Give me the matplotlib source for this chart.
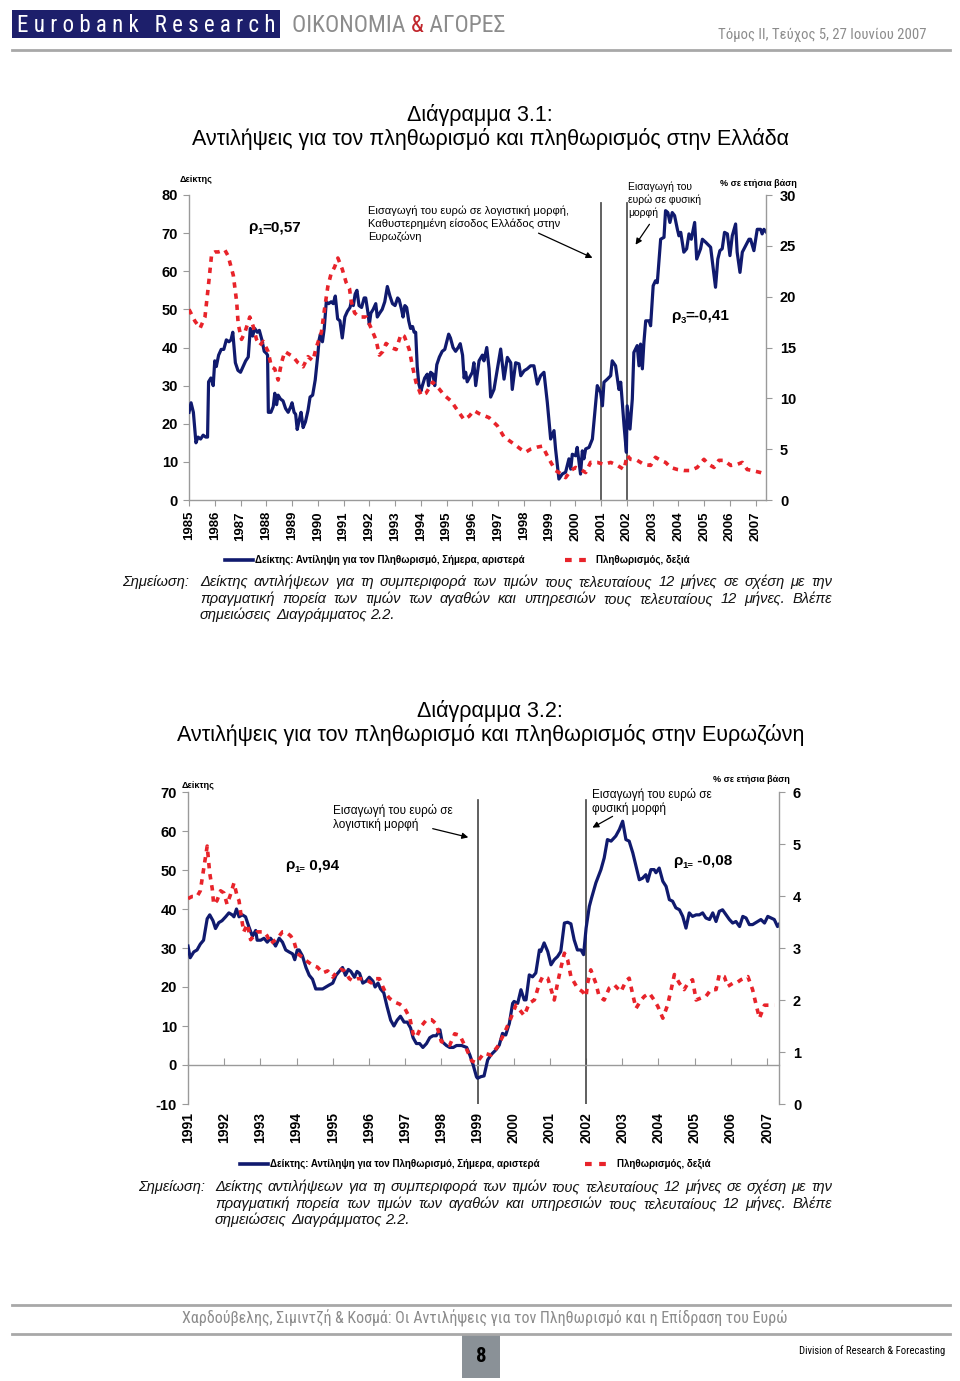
import matplotlib
matplotlib.use('Agg')
import matplotlib.pyplot as plt
from matplotlib import font_manager as fm
from matplotlib.lines import Line2D
from matplotlib.patches import Rectangle, FancyArrowPatch

# ---------------- DATA ----------------
# Chart 3.1 (Greece)
YEARS_1 = list(range(1985, 2008))
GR_IDX_T = [1985.00, 1985.08, 1985.17, 1985.27, 1985.35, 1985.45, 1985.55, 1985.65, 1985.72, 1985.76,
            1985.85, 1985.94, 1986.00, 1986.06, 1986.15, 1986.25, 1986.35, 1986.45, 1986.55, 1986.63,
            1986.70, 1986.80, 1986.90, 1987.00, 1987.10, 1987.20, 1987.30, 1987.38, 1987.47, 1987.55,
            1987.65, 1987.73, 1987.83, 1987.92, 1988.00, 1988.05, 1988.08, 1988.18, 1988.27, 1988.33,
            1988.40, 1988.46, 1988.55, 1988.65, 1988.75, 1988.85, 1988.95, 1989.00, 1989.08, 1989.14,
            1989.20, 1989.28, 1989.35, 1989.43, 1989.52, 1989.62, 1989.70, 1989.80, 1989.90, 1990.00,
            1990.05, 1990.10, 1990.18, 1990.25, 1990.33, 1990.42, 1990.52, 1990.60, 1990.68, 1990.77,
            1990.86, 1990.95, 1991.05, 1991.15, 1991.25, 1991.30, 1991.38, 1991.45, 1991.52, 1991.60,
            1991.70, 1991.80, 1991.86, 1991.95, 1992.00, 1992.06, 1992.15, 1992.25, 1992.31, 1992.40,
            1992.50, 1992.60, 1992.70, 1992.80, 1992.90, 1993.00, 1993.10, 1993.16, 1993.25, 1993.31,
            1993.38, 1993.45, 1993.53, 1993.60, 1993.68, 1993.74, 1993.80, 1993.86, 1993.92, 1994.00,
            1994.06, 1994.15, 1994.25, 1994.30, 1994.38, 1994.47, 1994.54, 1994.62, 1994.72, 1994.83,
            1994.93, 1995.08, 1995.15, 1995.25, 1995.35, 1995.45, 1995.53, 1995.62, 1995.68, 1995.74,
            1995.80, 1996.00, 1996.06, 1996.13, 1996.26, 1996.39, 1996.45, 1996.56, 1996.65, 1996.71,
            1996.84, 1997.10, 1997.23, 1997.36, 1997.49, 1997.55, 1997.68, 1997.81, 1997.88, 1998.01,
            1998.13, 1998.26, 1998.39, 1998.52, 1998.65, 1998.78, 1998.91, 1999.04, 1999.17, 1999.23,
            1999.36, 1999.49, 1999.62, 1999.75, 1999.82, 1999.88, 2000.01, 2000.07, 2000.20, 2000.27,
            2000.33, 2000.40, 2000.53, 2000.66, 2000.79, 2000.85, 2000.98, 2001.05, 2001.11, 2001.24,
            2001.37, 2001.43, 2001.56, 2001.69, 2001.76, 2001.89, 2001.98, 2002.01, 2002.12, 2002.21,
            2002.27, 2002.40, 2002.47, 2002.53, 2002.60, 2002.66, 2002.73, 2002.86, 2002.92, 2003.02,
            2003.11, 2003.18, 2003.31, 2003.44, 2003.50, 2003.59, 2003.67, 2003.76, 2003.85, 2003.96,
            2004.02, 2004.09, 2004.21, 2004.32, 2004.41, 2004.50, 2004.63, 2004.71, 2004.86, 2004.93,
            2005.06, 2005.25, 2005.44, 2005.53, 2005.61, 2005.70, 2005.79, 2005.90, 2006.00, 2006.09,
            2006.22, 2006.28, 2006.39, 2006.48, 2006.61, 2006.74, 2006.80, 2006.93, 2007.06, 2007.19,
            2007.25, 2007.32, 2007.42]
GR_IDX_V = [23, 25.5, 23, 15, 16.5, 16, 17, 16.5, 16.5, 31,
            32, 30, 36.5, 35, 38, 39.5, 39.5, 42, 41.5, 42,
            44, 36, 34, 33.5, 35, 36.5, 37.5, 45, 43, 45,
            44, 44.5, 42, 39, 38.5, 38, 23, 23, 24.5, 28,
            25, 27.5, 26.5, 26, 24, 23, 24.5, 25.5, 23, 22.5,
            18.5, 21, 23, 19, 20.5, 23.5, 27, 27.5, 31.5, 38,
            42, 43.5, 41.5, 45, 52, 51.5, 52, 51.5, 53.5, 47.5,
            47, 42.5, 48, 49.5, 50.5, 52, 51, 54, 55, 51,
            50.5, 53, 53, 49, 46, 49, 50, 51.5, 48, 49,
            50, 52, 56, 53.5, 51.5, 51, 53, 52.5, 50, 48,
            51, 50.5, 47, 45, 45.5, 44, 44, 35, 30.5, 28.5,
            30, 32, 33, 30, 33.5, 33, 30, 35.5, 37.5, 39,
            39.5, 43.5, 42.5, 40, 39, 40, 41, 38, 32, 33.5,
            31, 33.5, 36, 30, 36.5, 38, 36.5, 40, 34.4, 27,
            29, 39.6, 31.7, 37.4, 36, 29, 36, 35.7, 32.6, 33.9,
            34.4, 35.2, 35.2, 30.4, 32.6, 33.5, 25.6, 16, 18.2, 13.4,
            5.5, 6.8, 7.3, 10.8, 8.1, 12, 11.6, 13.8, 6.8, 12.9,
            10.8, 13.4, 13.8, 16, 25.6, 30, 28.2, 24.7, 30.9, 31.7,
            32.6, 36.5, 35.2, 29, 30.9, 19.5, 12.5, 24.7, 18.6, 26.5,
            38.7, 40.5, 35.2, 40.9, 34.4, 41.3, 47, 47, 45.7, 56.2,
            57.5, 57, 68.4, 68.9, 75.9, 75.4, 72.8, 75.4, 74.6, 71,
            69.3, 70.2, 65, 65.9, 69.8, 68.4, 72.8, 63.2, 65.9, 68.4,
            67.6, 66.3, 55.8, 63.2, 65.4, 65.9, 70.2, 69.8, 64.1, 69.3,
            72.4, 65, 59.7, 65, 66.7, 68.4, 68.4, 65.4, 71, 71,
            69.8, 71, 70.2]
GR_INF_T = [1985.00, 1985.23, 1985.43, 1985.62, 1985.75, 1985.88, 1986.01, 1986.14, 1986.39, 1986.52,
            1986.72, 1986.85, 1986.91, 1987.04, 1987.17, 1987.36, 1987.49, 1987.62, 1987.75, 1987.88,
            1988.07, 1988.20, 1988.33, 1988.46, 1988.59, 1988.72, 1988.91, 1989.04, 1989.23, 1989.43,
            1989.62, 1989.81, 1989.94, 1990.14, 1990.26, 1990.39, 1990.52, 1990.65, 1990.78, 1990.95,
            1991.10, 1991.23, 1991.30, 1991.43, 1991.62, 1991.88, 1992.07, 1992.26, 1992.39, 1992.52,
            1992.65, 1992.85, 1993.04, 1993.23, 1993.36, 1993.55, 1993.68, 1993.81, 1994.01, 1994.20,
            1994.46, 1994.72, 1994.91, 1995.17, 1995.43, 1995.68, 1995.88, 1996.06, 1996.26, 1996.65,
            1996.97, 1997.23, 1997.62, 1997.88, 1998.07, 1998.26, 1998.52, 1998.72, 1998.98, 1999.23,
            1999.43, 1999.62, 1999.82, 2000.01, 2000.20, 2000.40, 2000.59, 2000.85, 2001.11, 2001.37,
            2001.63, 2001.89, 2002.01, 2002.14, 2002.40, 2002.66, 2002.92, 2003.11, 2003.31, 2003.50,
            2003.70, 2003.96, 2004.21, 2004.47, 2004.73, 2004.99, 2005.18, 2005.38, 2005.57, 2005.77,
            2006.03, 2006.28, 2006.48, 2006.67, 2006.87, 2007.19, 2007.32]
GR_INF_V = [18.75, 17.6, 16.9, 18.0, 21.0, 24.2, 24.4, 24.4, 24.6, 24.0,
            22.1, 19.5, 17.3, 15.8, 16.5, 18.0, 17.1, 15.8, 15.2, 15.6,
            14.6, 13.1, 12.9, 11.8, 13.5, 14.6, 14.3, 14.1, 13.5, 13.1,
            14.1, 13.7, 15.0, 16.5, 18.75, 21.0, 22.3, 22.9, 23.8, 22.7,
            21.4, 20.8, 19.5, 18.4, 18.0, 18.0, 16.9, 15.75, 14.25, 14.6,
            15.4, 15.0, 14.8, 16.3, 16.1, 14.8, 13.1, 11.6, 10.3, 10.5,
            11.6, 10.9, 10.3, 9.75, 8.8, 7.9, 8.25, 8.8, 8.5, 8.1,
            7.3, 6.2, 5.5, 5.0, 4.7, 5.0, 5.2, 5.3, 4.0, 2.9,
            2.6, 2.2, 2.9, 3.2, 3.0, 2.7, 3.7, 3.7, 3.5, 3.7,
            3.4, 3.0, 4.4, 4.0, 3.9, 3.5, 3.4, 4.2, 3.9, 3.7,
            3.2, 3.0, 2.9, 2.9, 3.2, 4.0, 3.5, 3.2, 3.9, 3.9,
            3.4, 3.5, 3.7, 3.0, 2.9, 2.7, 2.6]
EURO_LINES_1 = [2001, 2002]

# Chart 3.2 (Euro area)
YEARS_2 = list(range(1991, 2008))
EA_IDX_T = [1991.00, 1991.06, 1991.16, 1991.25, 1991.34, 1991.43, 1991.53, 1991.60, 1991.69, 1991.76,
            1991.85, 1991.94, 1992.04, 1992.13, 1992.22, 1992.27, 1992.34, 1992.41, 1992.50, 1992.59,
            1992.68, 1992.78, 1992.87, 1992.91, 1993.01, 1993.10, 1993.19, 1993.28, 1993.36, 1993.42,
            1993.52, 1993.61, 1993.70, 1993.79, 1993.89, 1993.95, 1994.02, 1994.07, 1994.16, 1994.26,
            1994.35, 1994.44, 1994.53, 1994.63, 1994.72, 1994.81, 1994.90, 1995.00, 1995.09, 1995.18,
            1995.27, 1995.35, 1995.43, 1995.50, 1995.60, 1995.67, 1995.74, 1995.83, 1995.92, 1996.01,
            1996.11, 1996.17, 1996.25, 1996.32, 1996.41, 1996.50, 1996.60, 1996.69, 1996.78, 1996.87,
            1996.97, 1997.06, 1997.15, 1997.22, 1997.31, 1997.40, 1997.49, 1997.59, 1997.68, 1997.77,
            1997.86, 1997.96, 1998.02, 1998.14, 1998.23, 1998.33, 1998.42, 1998.56, 1998.70, 1998.79,
            1998.88, 1998.97, 1999.00, 1999.09, 1999.18, 1999.28, 1999.37, 1999.51, 1999.60, 1999.69,
            1999.78, 1999.88, 1999.97, 2000.01, 2000.11, 2000.20, 2000.29, 2000.34, 2000.43, 2000.52,
            2000.61, 2000.71, 2000.75, 2000.84, 2000.94, 2001.03, 2001.12, 2001.21, 2001.30, 2001.40,
            2001.49, 2001.58, 2001.67, 2001.76, 2001.86, 2001.93, 2002.00, 2002.09, 2002.15, 2002.27,
            2002.41, 2002.50, 2002.59, 2002.69, 2002.82, 2002.92, 2003.01, 2003.10, 2003.19, 2003.29,
            2003.38, 2003.47, 2003.56, 2003.65, 2003.70, 2003.79, 2003.88, 2003.93, 2004.02, 2004.12,
            2004.21, 2004.30, 2004.39, 2004.48, 2004.58, 2004.67, 2004.76, 2004.85, 2004.94, 2005.04,
            2005.13, 2005.22, 2005.31, 2005.41, 2005.50, 2005.59, 2005.68, 2005.77, 2005.87, 2005.96,
            2006.05, 2006.14, 2006.24, 2006.33, 2006.42, 2006.51, 2006.60, 2006.74, 2006.83, 2006.93,
            2007.02, 2007.11, 2007.20, 2007.29, 2007.39, 2007.48]
EA_IDX_V = [30.5, 27.5, 29, 29.5, 31, 32, 37.5, 38.5, 37, 35,
            36.5, 37, 38, 39, 38.5, 38, 40, 38, 38.5, 38,
            35.5, 33, 34.5, 32, 32, 32.5, 31.5, 32.5, 31.5, 30.5,
            32.5, 31.5, 29.5, 29, 28.5, 27, 29.5, 29.5, 28, 25,
            23, 22, 19.5, 19.5, 19.5, 20, 20.5, 21, 23, 24,
            25, 23, 24.5, 24, 22.5, 24, 23.5, 21, 21.5, 22.5,
            21.5, 20, 21, 19.5, 18.5, 15, 11.5, 10, 11.5, 12.5,
            11, 11, 9.5, 7, 5.5, 5.5, 4.5, 5.5, 7, 7.5,
            7.5, 9, 6, 5, 4.5, 4.5, 5, 5, 4.5, 2.5,
            0, -3, -3.4, -3, -2.8, 1.3, 2.6, 3.9, 5.1, 8.1,
            7.7, 10.7, 15.8, 16.3, 15.8, 19.3, 16.7, 16.7, 23.1, 22.6,
            23.6, 29.5, 29.1, 31.3, 29.1, 25.7, 27, 27.8, 29.1, 36.4,
            36.6, 36.2, 32.1, 29.5, 29.5, 28.3, 35.1, 40.7, 42.8, 46.7,
            50.1, 53.1, 57.8, 57.4, 58.7, 60.4, 62.5, 57.8, 57.4, 54.4,
            51, 47.5, 47.9, 48.8, 47.1, 50.1, 50.1, 49.3, 50.5, 47.1,
            45.8, 42.4, 42, 40.3, 39.8, 38.1, 35.1, 39, 38.1, 38.5,
            38.5, 39, 37.7, 37.3, 39, 36.8, 39.4, 39.8, 38.5, 37.3,
            36.4, 36.8, 35.5, 38.1, 37.7, 36, 36, 36.8, 37.3, 36.4,
            38.1, 37.7, 37.3, 35.5, 36.8, 36.4]
EA_INF_T = [1991.00, 1991.11, 1991.25, 1991.34, 1991.43, 1991.48, 1991.53, 1991.60, 1991.67, 1991.71,
            1991.80, 1991.90, 1991.99, 1992.08, 1992.17, 1992.27, 1992.36, 1992.41, 1992.47, 1992.54,
            1992.64, 1992.73, 1992.82, 1992.91, 1993.10, 1993.19, 1993.28, 1993.42, 1993.52, 1993.61,
            1993.70, 1993.84, 1993.93, 1994.02, 1994.16, 1994.30, 1994.44, 1994.58, 1994.72, 1994.86,
            1995.00, 1995.09, 1995.23, 1995.32, 1995.46, 1995.55, 1995.69, 1995.83, 1995.97, 1996.06,
            1996.15, 1996.29, 1996.38, 1996.48, 1996.57, 1996.71, 1996.85, 1996.99, 1997.13, 1997.22,
            1997.31, 1997.45, 1997.59, 1997.73, 1997.86, 1998.00, 1998.14, 1998.23, 1998.37, 1998.51,
            1998.70, 1998.84, 1998.97, 1999.18, 1999.37, 1999.55, 1999.74, 1999.92, 2000.06, 2000.29,
            2000.43, 2000.57, 2000.71, 2000.80, 2000.94, 2001.12, 2001.21, 2001.30, 2001.40, 2001.49,
            2001.58, 2001.76, 2001.90, 2002.00, 2002.04, 2002.13, 2002.27, 2002.36, 2002.50, 2002.64,
            2002.78, 2002.96, 2003.10, 2003.19, 2003.29, 2003.38, 2003.52, 2003.61, 2003.75, 2003.88,
            2003.98, 2004.12, 2004.25, 2004.35, 2004.44, 2004.58, 2004.71, 2004.81, 2004.94, 2005.04,
            2005.18, 2005.31, 2005.45, 2005.59, 2005.68, 2005.82, 2005.91, 2006.05, 2006.14, 2006.28,
            2006.47, 2006.60, 2006.70, 2006.79, 2006.93, 2007.06, 2007.20]
EA_INF_V = [3.95, 3.99, 3.99, 4.10, 4.51, 4.74, 4.96, 4.44, 4.14, 3.84,
            3.91, 4.10, 4.06, 3.84, 4.02, 4.25, 3.99, 3.91, 3.61, 3.31,
            3.46, 3.16, 3.23, 3.31, 3.31, 3.23, 3.08, 3.16, 3.23, 3.31,
            3.31, 3.23, 3.12, 2.90, 2.82, 2.74, 2.67, 2.63, 2.52, 2.56,
            2.44, 2.52, 2.59, 2.56, 2.41, 2.37, 2.41, 2.41, 2.37, 2.33,
            2.41, 2.41, 2.26, 2.11, 2.03, 1.96, 1.92, 1.84, 1.65, 1.35,
            1.28, 1.50, 1.62, 1.62, 1.54, 1.20, 1.17, 1.13, 1.35, 1.32,
            1.05, 0.83, 0.79, 0.98, 0.94, 1.10, 1.36, 1.65, 1.90, 1.70,
            1.94, 2.00, 2.32, 2.45, 2.42, 2.00, 2.32, 2.61, 2.90, 2.77,
            2.45, 2.23, 2.16, 2.07, 2.32, 2.58, 2.32, 2.07, 2.00, 2.23,
            2.29, 2.16, 2.36, 2.42, 2.10, 1.84, 2.00, 2.07, 2.13, 2.00,
            1.88, 1.65, 1.90, 2.20, 2.49, 2.32, 2.20, 2.32, 2.39, 2.00,
            2.04, 2.07, 2.20, 2.20, 2.49, 2.45, 2.26, 2.32, 2.32, 2.39,
            2.45, 2.20, 1.90, 1.65, 1.90, 1.90, 1.90]
EURO_LINES_2 = [1999, 2002]

NOTE_LINES = ["Δείκτης αντιλήψεων για τη συμπεριφορά των τιμών τους τελευταίους 12 μήνες σε σχέση με την",
              "πραγματική πορεία των τιμών των αγαθών και υπηρεσιών τους τελευταίους 12 μήνες. Βλέπε",
              "σημειώσεις Διαγράμματος 2.2."]

# ---------------- STYLE ----------------
W, H = 960, 1381
names = {f.name for f in fm.fontManager.ttflist}
SANS = 'Liberation Sans' if 'Liberation Sans' in names else 'DejaVu Sans'
NARROW = next((n for n in ['Liberation Sans Narrow', 'Roboto Condensed', 'Open Sans Condensed']
               if n in names), SANS)
plt.rcParams['font.family'] = [SANS, 'DejaVu Sans']
NAVY = '#101a6e'
RED = '#e8232a'
GREY = '#9a9a9a'

fig = plt.figure(figsize=(W / 100, H / 100), dpi=100)
fig.patch.set_facecolor('white')
REND = fig.canvas.get_renderer()


def ptext(x, y, s, **kw):
    return fig.text(x / W, 1 - y / H, s, **kw)


def wpx(t):
    return t.get_window_extent(REND).width


def fit(t, target):
    t.set_fontsize(t.get_fontsize() * target / wpx(t))


def hline(x0, x1, y, **kw):
    fig.add_artist(Line2D([x0 / W, x1 / W], [1 - y / H, 1 - y / H], transform=fig.transFigure, **kw))


def arrow(x0, y0, x1, y1):
    fig.add_artist(FancyArrowPatch((x0 / W, 1 - y0 / H), (x1 / W, 1 - y1 / H),
                                   transform=fig.transFigure, arrowstyle='-|>',
                                   mutation_scale=9, lw=0.9, color='black'))


def rho(x, y, sub, rest, size=11):
    t1 = ptext(x, y, 'ρ', fontsize=size, fontweight='bold', va='baseline')
    x += wpx(t1)
    t2 = ptext(x, y + 3, sub, fontsize=size * 0.62, fontweight='bold', va='baseline')
    x += wpx(t2)
    ptext(x, y, rest, fontsize=size, fontweight='bold', va='baseline')


NOTE_KW = dict(fontstyle='italic', family=[SANS, 'DejaVu Sans'], va='baseline', color='#111111')


def justify(lines, x0, x1, ys, size):
    kw = NOTE_KW
    for _ in range(3):
        worst = 0
        for line in lines[:-1]:
            ts = [ptext(0, 0, w, fontsize=size, **kw) for w in line.split()]
            need = sum(wpx(t) for t in ts) + 3.0 * (len(ts) - 1)
            for t in ts:
                t.remove()
            worst = max(worst, need / (x1 - x0))
        if worst > 1:
            size = size / worst * 0.995
        else:
            break
    for i, (line, y) in enumerate(zip(lines, ys)):
        words = line.split()
        ts = [ptext(0, y, w, fontsize=size, **kw) for w in words]
        ws = [wpx(t) for t in ts]
        if i == len(lines) - 1:
            gap = size * 0.4
        else:
            gap = (x1 - x0 - sum(ws)) / (len(words) - 1)
        x = x0
        for t, w in zip(ts, ws):
            t.set_x(x / W)
            x += w + gap
    return size


def legend(xl0, xl1, y, xt1, xr0, xr1, xt2):
    fig.add_artist(Line2D([xl0 / W, xl1 / W], [1 - y / H] * 2, transform=fig.transFigure,
                          color=NAVY, lw=2.6))
    ptext(xt1, y, 'Δείκτης: Αντίληψη για τον Πληθωρισμό, Σήμερα, αριστερά', fontsize=7,
          fontweight='bold', va='center')
    fig.add_artist(Line2D([xr0 / W, xr1 / W], [1 - y / H] * 2, transform=fig.transFigure,
                          color=RED, lw=3, dashes=(1.6, 1.8)))
    ptext(xt2, y, 'Πληθωρισμός, δεξιά', fontsize=7, fontweight='bold', va='center')


def style(ax, axr):
    ax.spines['top'].set_visible(False)
    ax.spines['right'].set_visible(False)
    for s in ['top', 'left', 'bottom']:
        axr.spines[s].set_visible(False)
    for sp in [ax.spines['left'], ax.spines['bottom'], axr.spines['right']]:
        sp.set_color(GREY)
        sp.set_linewidth(1.0)
    ax.patch.set_alpha(0)
    axr.patch.set_alpha(0)


# ---------------- HEADER ----------------
fig.add_artist(Rectangle((12 / W, 1 - 38 / H), 268 / W, 28 / H, transform=fig.transFigure,
                         facecolor='#1d1f6b', edgecolor='none'))
t = ptext(146, 25, 'E u r o b a n k   R e s e a r c h', color='white', fontsize=15,
          family=[NARROW, 'DejaVu Sans'], ha='center', va='center')
fit(t, 258)
t1 = ptext(292, 25, 'ΟΙΚΟΝΟΜΙΑ ', color='#8c8c8c', fontsize=24, family=[NARROW, 'DejaVu Sans'],
           va='center')
t2 = ptext(292, 25, '&', color='#c1272d', fontsize=24, family=[NARROW, 'DejaVu Sans'], va='center')
t3 = ptext(292, 25, ' ΑΓΟΡΕΣ', color='#8c8c8c', fontsize=24, family=[NARROW, 'DejaVu Sans'],
           va='center')
tot = wpx(t1) + wpx(t2) + wpx(t3)
sc = 213 / tot
for tt in (t1, t2, t3):
    tt.set_fontsize(24 * sc)
xx = 292 + wpx(t1)
t2.set_x(xx / W)
t3.set_x((xx + wpx(t2)) / W)
t = ptext(926, 35, 'Τόμος ΙΙ, Τεύχος 5, 27 Ιουνίου 2007', color='#8c8c8c', fontsize=11,
          family=[NARROW, 'DejaVu Sans'], ha='right', va='center')
fit(t, 208)
hline(12, 950, 50, color='#a8a8a8', lw=2)

# ---------------- CHART 3.1 ----------------
ptext(480, 115, 'Διάγραμμα 3.1:', fontsize=15.5, ha='center', va='center')
ptext(491, 139, 'Αντιλήψεις για τον πληθωρισμό και πληθωρισμός στην Ελλάδα', fontsize=15.5,
      ha='center', va='center')

ax1 = fig.add_axes([189 / W, 1 - 500 / H, 577 / W, 305 / H])
ax1r = ax1.twinx()
style(ax1, ax1r)
ax1.set_xlim(1985, 2007.4)
ax1.set_ylim(0, 80)
ax1r.set_ylim(0, 30)
for xv in EURO_LINES_1:
    ax1.plot([xv, xv], [0, 77.9], color='#555555', lw=1.3, zorder=2)
ax1.plot(GR_IDX_T, GR_IDX_V, color=NAVY, lw=2.3, zorder=3, solid_joinstyle='round')
ax1r.plot(GR_INF_T, GR_INF_V, color=RED, lw=2.6, dashes=(1.5, 1.6), zorder=4)
ax1.set_yticks(range(0, 81, 10), [str(v) for v in range(0, 81, 10)], fontweight='bold', fontsize=10.5)
ax1r.set_yticks(range(0, 31, 5), [str(v) for v in range(0, 31, 5)], fontweight='bold', fontsize=10.5)
ax1.set_xticks(YEARS_1, [str(y) for y in YEARS_1], rotation=90, fontweight='bold', fontsize=9.5)
ax1.tick_params(axis='both', length=4, color=GREY, pad=4)
ax1r.tick_params(axis='y', length=4, color=GREY, pad=6)

ptext(180, 180, 'Δείκτης', fontsize=6.5, fontweight='bold', va='center')
ptext(720, 184, '% σε ετήσια βάση', fontsize=6.5, fontweight='bold', va='center')
rho(248, 231, '1', '=0,57', 11)
rho(671, 320, '3', '=-0,41', 11)
ptext(368, 206, 'Εισαγωγή του ευρώ σε λογιστική μορφή,\nΚαθυστερημένη είσοδος Ελλάδος στην\nΕυρωζώνη',
      fontsize=8, va='top', linespacing=1.25)
arrow(536, 232, 595, 259)
ptext(628, 182, 'Εισαγωγή του\nευρώ σε φυσική\nμορφή', fontsize=7.5, va='top', linespacing=1.25)
arrow(651, 222, 634, 247)

legend(225, 253, 560, 255, 565, 586, 596)
ptext(122, 586, 'Σημείωση:', fontsize=10.5, **NOTE_KW)
justify(NOTE_LINES, 200, 832, [586, 603, 619], 10.5)

# ---------------- CHART 3.2 ----------------
ptext(490, 711, 'Διάγραμμα 3.2:', fontsize=15.5, ha='center', va='center')
ptext(491, 735, 'Αντιλήψεις για τον πληθωρισμό και πληθωρισμός στην Ευρωζώνη', fontsize=15.5,
      ha='center', va='center')

ax2 = fig.add_axes([188 / W, 1 - 1104 / H, 591 / W, 312 / H])
ax2r = ax2.twinx()
style(ax2, ax2r)
ax2.set_xlim(1991, 2007.33)
ax2.set_ylim(-10, 70)
ax2r.set_ylim(0, 6)
ax2.spines['bottom'].set_position(('data', 0))
for xv in EURO_LINES_2:
    ax2.plot([xv, xv], [-10, 68], color='#444444', lw=1.2, zorder=2)
ax2.plot(EA_IDX_T, EA_IDX_V, color=NAVY, lw=2.3, zorder=3, solid_joinstyle='round')
ax2r.plot(EA_INF_T, EA_INF_V, color=RED, lw=2.6, dashes=(1.5, 1.6), zorder=4)
ax2.set_yticks(range(-10, 71, 10), [str(v) for v in range(-10, 71, 10)], fontweight='bold',
               fontsize=10.5)
ax2r.set_yticks(range(0, 7), [str(v) for v in range(0, 7)], fontweight='bold', fontsize=10.5)
ax2.set_xticks(YEARS_2, [str(y) for y in YEARS_2], rotation=90, fontweight='bold', fontsize=10)
ax2.tick_params(axis='y', length=4, color=GREY, pad=4)
ax2.tick_params(axis='x', length=5, direction='in', color=GREY, pad=34)
ax2r.tick_params(axis='y', length=4, color=GREY, pad=6)

ptext(182, 785, 'Δείκτης', fontsize=6.5, fontweight='bold', va='center')
ptext(713, 779, '% σε ετήσια βάση', fontsize=6.5, fontweight='bold', va='center')
rho(285, 869, '1=', ' 0,94', 11)
rho(673, 865, '1=', ' -0,08', 11)
ptext(333, 804, 'Εισαγωγή του ευρώ σε\nλογιστική μορφή', fontsize=8.5, va='top', linespacing=1.15)
arrow(430, 828, 471, 838)
ptext(592, 788, 'Εισαγωγή του ευρώ σε\nφυσική μορφή', fontsize=8.5, va='top', linespacing=1.15)
arrow(615, 815, 590, 829)

legend(240, 268, 1164, 270, 585, 606, 617)
ptext(138, 1191, 'Σημείωση:', fontsize=10.5, **NOTE_KW)
justify(NOTE_LINES, 215, 832, [1191, 1208, 1224], 10.5)

# ---------------- FOOTER ----------------
hline(12, 950, 1305, color='#a8a8a8', lw=2)
t = ptext(485, 1318, 'Χαρδούβελης, Σιμιντζή & Κοσμά: Οι Αντιλήψεις για τον Πληθωρισμό και η Επίδραση του Ευρώ',
          color='#8c8c8c', fontsize=12, family=[NARROW, 'DejaVu Sans'], ha='center', va='center')
fit(t, 606)
hline(12, 950, 1334, color='#a8a8a8', lw=2)
fig.add_artist(Rectangle((462 / W, 1 - 1378 / H), 38 / W, 43 / H, transform=fig.transFigure,
                         facecolor='#8a9197', edgecolor='none'))
ptext(481, 1356, '8', fontsize=15, fontweight='bold', family=[NARROW, 'DejaVu Sans'],
      ha='center', va='center', color='black')
t = ptext(945, 1351, 'Division of Research & Forecasting', fontsize=10,
          family=[NARROW, 'DejaVu Sans'], ha='right', va='center', color='black')
fit(t, 145)

fig.savefig('out.png', dpi=100, facecolor='white')
